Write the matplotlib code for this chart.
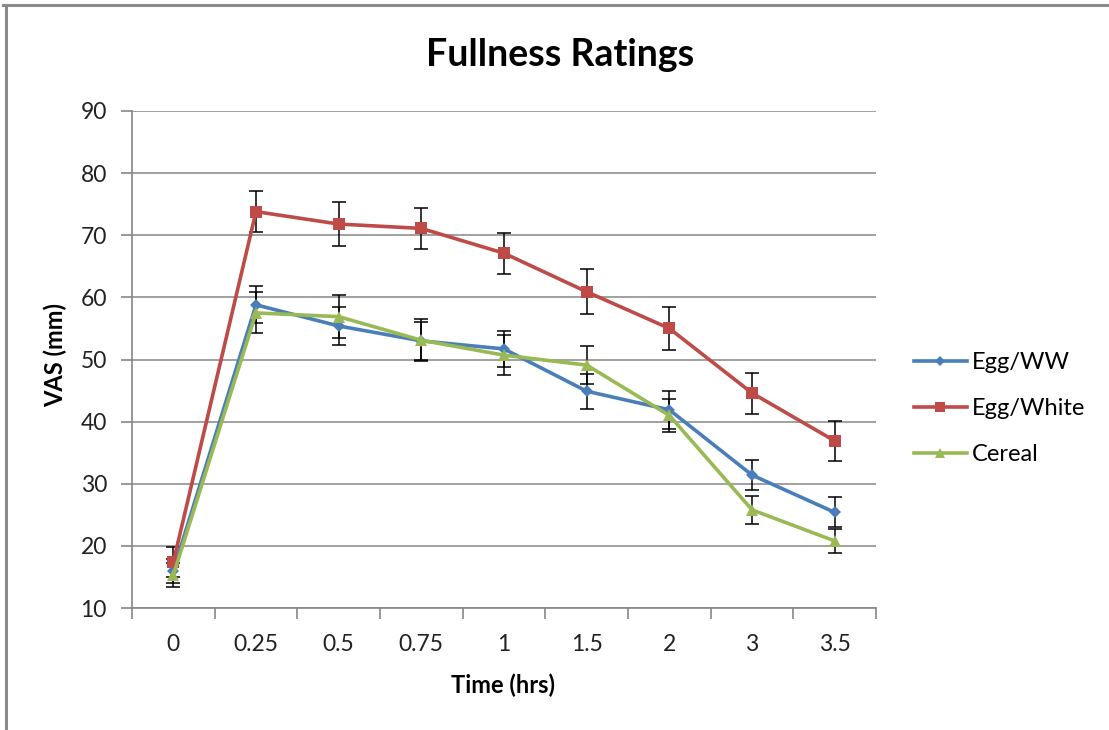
import matplotlib
matplotlib.use("Agg")
import matplotlib.pyplot as plt
from matplotlib.lines import Line2D

plt.rcParams['font.family'] = ['Lato', 'DejaVu Sans']

times = ['0', '0.25', '0.5', '0.75', '1', '1.5', '2', '3', '3.5']

egg_ww = [16.0, 58.8, 55.4, 53.0, 51.7, 44.9, 41.9, 31.4, 25.4]
egg_ww_err = [1.9, 3.0, 3.1, 3.0, 2.9, 2.8, 3.0, 2.4, 2.4]

egg_white = [17.4, 73.8, 71.8, 71.1, 67.1, 60.9, 55.0, 44.6, 36.9]
egg_white_err = [2.4, 3.3, 3.6, 3.3, 3.3, 3.6, 3.5, 3.3, 3.2]

cereal = [15.3, 57.5, 56.9, 53.1, 50.7, 49.1, 41.0, 25.8, 20.8]
cereal_err = [1.9, 3.3, 3.5, 3.4, 3.2, 3.0, 2.6, 2.2, 2.0]

series = [
    ('Egg/WW', egg_ww, egg_ww_err, '#4A7EBB', 'D', 6),
    ('Egg/White', egg_white, egg_white_err, '#BE4B48', 's', 8.5),
    ('Cereal', cereal, cereal_err, '#98B954', '^', 9),
]

fig = plt.figure(figsize=(11.09, 7.30), dpi=100)
ax = fig.add_axes([0.119, 0.167, 0.671, 0.681])

x = list(range(len(times)))
handles = []
for name, vals, err, col, mk, ms in series:
    ax.errorbar(x, vals, yerr=err, fmt='none', ecolor='black',
                elinewidth=1.1, capsize=5, capthick=1.1, zorder=2)
    h, = ax.plot(x, vals, color=col, lw=2.6, marker=mk, markersize=ms,
                 markeredgewidth=0, label=name, zorder=3)
    handles.append(h)

ax.set_ylim(10, 90)
ax.set_yticks(range(10, 91, 10))
ax.set_xlim(-0.5, len(times) - 0.5)
ax.set_xticks(x)
ax.set_xticklabels(times)
ax.set_xticks([i - 0.5 for i in range(len(times) + 1)], minor=True)
ax.tick_params(axis='x', which='major', length=0, pad=19)
ax.tick_params(axis='x', which='minor', length=8, color='#868686', width=1.2)
ax.tick_params(axis='y', length=8, color='#868686', width=1.2, pad=10)
ax.tick_params(labelsize=16.5, labelcolor='#222222')

ax.grid(axis='y', color='#868686', lw=1.1)
ax.set_axisbelow(True)
for s in ['top', 'right']:
    ax.spines[s].set_visible(False)
for s in ['left', 'bottom']:
    ax.spines[s].set_color('#868686')
    ax.spines[s].set_linewidth(1.2)

fig.text(0.4536, 0.0616, 'Time (hrs)', ha='center', va='center',
         fontsize=17, fontweight='bold')
fig.text(0.0496, 0.5137, 'VAS (mm)', ha='center', va='center',
         rotation=90, fontsize=17, fontweight='bold')
fig.text(0.505, 0.925, 'Fullness Ratings', ha='center', va='center',
         fontsize=27, fontweight='bold')

fig.legend(handles=handles, loc='center left', bbox_to_anchor=(0.824, 0.440),
           frameon=False, fontsize=17, handlelength=2.25, handletextpad=0.2,
           labelspacing=1.06, markerscale=0.8, borderpad=0, borderaxespad=0)

# outer frame (top and left edges)
fig.add_artist(Line2D([0.003, 1.0], [0.993, 0.993], color='#8a8a8a', lw=2.2,
                      transform=fig.transFigure))
fig.add_artist(Line2D([0.0055, 0.0055], [0.0, 0.993], color='#8a8a8a', lw=2.2,
                      transform=fig.transFigure))

fig.savefig('out.png', dpi=100)
